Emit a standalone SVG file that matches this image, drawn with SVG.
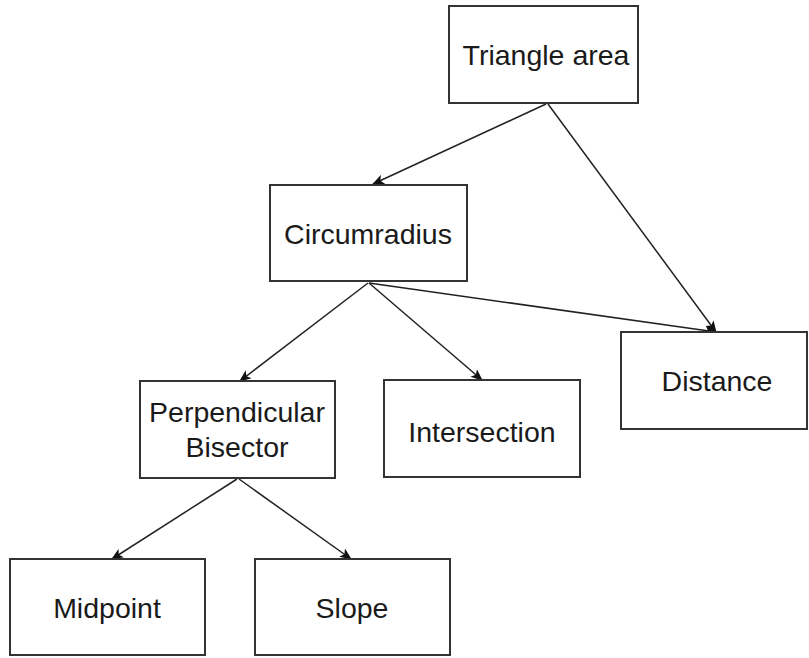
<svg xmlns="http://www.w3.org/2000/svg" width="809" height="658" viewBox="0 0 809 658">
<style>
.box{fill:#fff;stroke:#333;stroke-width:2}
.lbl{font-family:"Liberation Sans",Arial,sans-serif;font-size:28.5px;fill:#1a1a1a;text-anchor:middle}
.edge{fill:none;stroke:#222;stroke-width:1.5}
</style>
<defs>
<marker id="arr" viewBox="0 0 12 10" refX="11" refY="5" markerWidth="12" markerHeight="10" markerUnits="userSpaceOnUse" orient="auto">
<path d="M0,0 L12,5 L0,10 L3,5 Z" fill="#111"/>
</marker>
</defs>
<rect width="809" height="658" fill="#fff"/>
<g id="connectors">
<path class="edge" d="M546,104 L373,184" marker-end="url(#arr)"/>
<path class="edge" d="M548,104 L716,332" marker-end="url(#arr)"/>
<path class="edge" d="M369,283 L716,332" marker-end="url(#arr)"/>
<path class="edge" d="M368,283 L240,381" marker-end="url(#arr)"/>
<path class="edge" d="M369,283 L482,380" marker-end="url(#arr)"/>
<path class="edge" d="M237,479 L112,559" marker-end="url(#arr)"/>
<path class="edge" d="M239,479 L351,559" marker-end="url(#arr)"/>
</g>
<g id="triangle-area"><rect class="box" x="449" y="6" width="189" height="97"/><text class="lbl" x="546" y="65">Triangle area</text></g>
<g id="circumradius"><rect class="box" x="270" y="185" width="197" height="96"/><text class="lbl" x="368" y="244">Circumradius</text></g>
<g id="distance"><rect class="box" x="621" y="332" width="186" height="97"/><text class="lbl" x="717" y="391">Distance</text></g>
<g id="perpendicular-bisector"><rect class="box" x="140" y="381" width="195" height="97"/><text class="lbl" x="237" y="422">Perpendicular</text><text class="lbl" x="237" y="457">Bisector</text></g>
<g id="intersection"><rect class="box" x="384" y="380" width="196" height="97"/><text class="lbl" x="482" y="442">Intersection</text></g>
<g id="midpoint"><rect class="box" x="10" y="559" width="195" height="96"/><text class="lbl" x="107" y="618">Midpoint</text></g>
<g id="slope"><rect class="box" x="255" y="559" width="195" height="96"/><text class="lbl" x="352" y="618">Slope</text></g>
</svg>
